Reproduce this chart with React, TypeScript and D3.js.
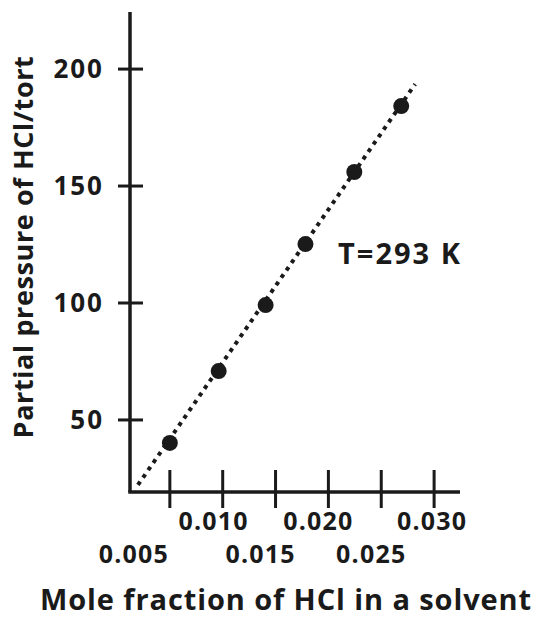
import React from "react";
import * as d3 from "d3";

// measured points (mole fraction, partial pressure / torr)
const moleFraction = [0.005, 0.00962, 0.01406, 0.01783, 0.02245, 0.02689];
const pressure = [40.2, 70.9, 99.1, 125.2, 156.0, 184.2];

// dotted fit line end points
const fitX = [0.00198, 0.02821];
const fitY = [22.2, 193.6];

const xTicks = [0.005, 0.01, 0.015, 0.02, 0.025, 0.03];
const xTickLabels = ["0.005", "0.010", "0.015", "0.020", "0.025", "0.030"];
const yTicks = [50, 100, 150, 200];
const yTickLabels = ["50", "100", "150", "200"];

const xTitle = "Mole fraction of HCl in a solvent";
const yTitle = "Partial pressure of HCl/tort";
const note = "T=293 K";

const W = 537;
const H = 617;
const FONT = "'Open Sans', 'Noto Sans', sans-serif";
const INK = "#1a1a1a";

// the original labels sit a bit left of their ticks
const labelShift = [-36, -9, -15, -10, -10, -2];

const App = () => {
  const x = d3.scaleLinear().domain([0.00123, 0.03245]).range([130, 460]);
  const y = d3.scaleLinear().domain([19.2, 224.4]).range([492, 12]);

  const fitLine = d3
    .line<number>()
    .x((d) => x(d))
    .y((_, i) => y(fitY[i]));

  return (
    <svg
      width={W}
      height={H}
      style={{ position: "absolute", left: 0, top: 0, background: "#fff" }}
      fontFamily={FONT}
      fontWeight={700}
      fill={INK}
    >
      {/* axes */}
      <line x1={x(0.00123)} x2={x(0.00123)} y1={y(224.4)} y2={y(19.2)} stroke={INK} strokeWidth={3.5} />
      <line x1={x(0.00123) - 1.75} x2={x(0.03245)} y1={y(19.2)} y2={y(19.2)} stroke={INK} strokeWidth={3.5} />

      {yTicks.map((t, i) => (
        <g key={t}>
          <line x1={118} x2={143} y1={y(t)} y2={y(t)} stroke={INK} strokeWidth={3} />
          <text x={104} y={y(t)} dy="0.36em" textAnchor="end" fontSize={26} letterSpacing={2}>
            {yTickLabels[i]}
          </text>
        </g>
      ))}

      {xTicks.map((t, i) => (
        <g key={t}>
          <line x1={x(t)} x2={x(t)} y1={470} y2={508} stroke={INK} strokeWidth={3} />
          <text
            x={x(t) + labelShift[i]}
            y={i % 2 === 0 ? 563 : 530}
            textAnchor="middle"
            fontSize={25}
            letterSpacing={1.2}
          >
            {xTickLabels[i]}
          </text>
        </g>
      ))}

      {/* fit line */}
      <path d={fitLine(fitX) || ""} fill="none" stroke={INK} strokeWidth={4} strokeDasharray="4,5" />

      {/* points */}
      {moleFraction.map((m, i) => (
        <circle key={i} cx={x(m)} cy={y(pressure[i])} r={8} />
      ))}

      <text x={338} y={264} fontSize={29} letterSpacing={2}>
        {note}
      </text>

      <text transform={`translate(33, 247) rotate(-90)`} textAnchor="middle" fontSize={27} letterSpacing={0.6}>
        {yTitle}
      </text>

      <text x={286} y={610} textAnchor="middle" fontSize={29} letterSpacing={0.9}>
        {xTitle}
      </text>
    </svg>
  );
};

export default App;
